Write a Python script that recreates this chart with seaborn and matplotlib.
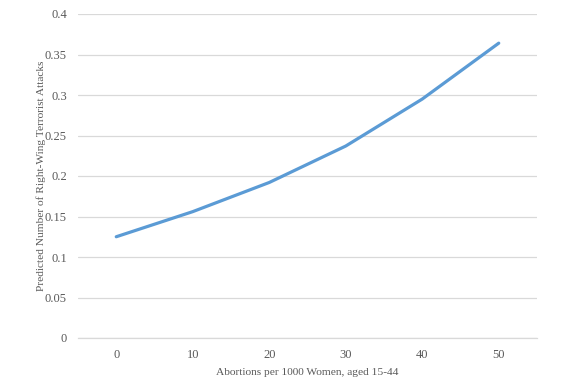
import matplotlib
matplotlib.use("Agg")
import matplotlib.pyplot as plt
import seaborn as sns
import pandas as pd

abortion_rates = [0, 10, 20, 30, 40, 50]
predicted_attacks = [0.125, 0.156, 0.192, 0.237, 0.295, 0.364]
y_ticks = [0, 0.05, 0.1, 0.15, 0.2, 0.25, 0.3, 0.35, 0.4]
y_tick_labels = ["0", "0.05", "0.1", "0.15", "0.2", "0.25", "0.3", "0.35", "0.4"]

sns.set_style("white")
plt.rcParams['font.family'] = ['Liberation Serif', 'DejaVu Serif']

df = pd.DataFrame({"pos": range(len(abortion_rates)),
                   "rate": abortion_rates,
                   "attacks": predicted_attacks})

fig = plt.figure(figsize=(5.63, 3.88), dpi=100)
ax = fig.add_axes([78 / 563, 1 - 338 / 388, 459 / 563, 324 / 388])

sns.lineplot(data=df, x="pos", y="attacks", color="#5B9BD5", linewidth=2.3,
             ax=ax, zorder=3)

text_color = "#595959"
grid_color = "#D9D9D9"

ax.set_xlim(-0.5, len(abortion_rates) - 0.5)
ax.set_ylim(0, 0.4)
ax.set_xticks(df["pos"])
ax.set_xticklabels([str(v) for v in abortion_rates])
ax.set_yticks(y_ticks)
ax.set_yticklabels(y_tick_labels)
ax.yaxis.grid(True, color=grid_color, linewidth=0.9)
ax.set_axisbelow(True)
ax.tick_params(axis="both", length=0, labelsize=9, colors=text_color)
ax.tick_params(axis="x", pad=8)
ax.tick_params(axis="y", pad=8)

for side in ["top", "left", "right"]:
    ax.spines[side].set_visible(False)
ax.spines["bottom"].set_color(grid_color)
ax.spines["bottom"].set_linewidth(0.9)

ax.set_xlabel("Abortions per 1000 Women, aged 15-44", fontsize=8.2,
              color=text_color, labelpad=5)
ax.set_ylabel("Predicted Number of Right-Wing Terrorist Attacks", fontsize=8.2,
              color=text_color, labelpad=-0.8)

fig.savefig("out.png", dpi=100)
